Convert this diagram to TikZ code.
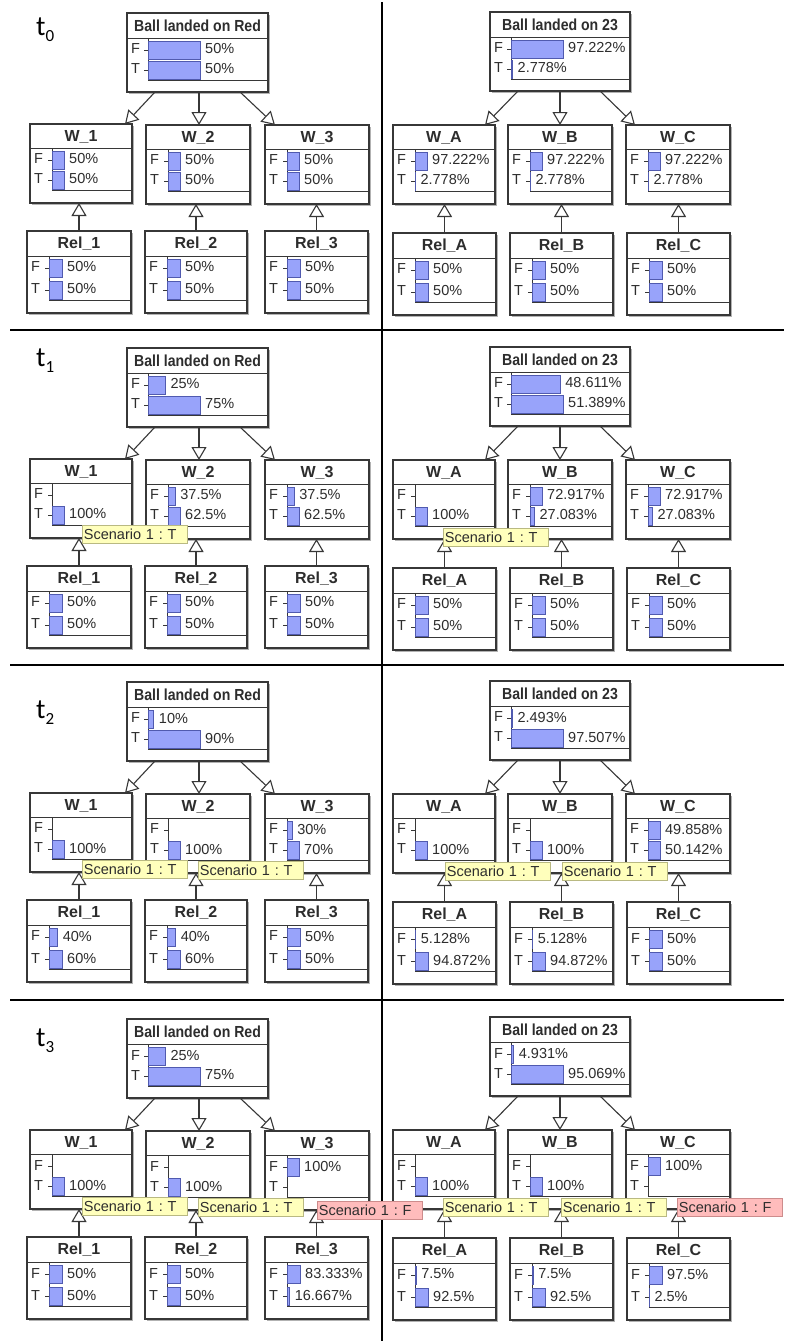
\documentclass[tikz,border=0pt]{standalone}
\usepackage{fontspec}
\usepackage{graphicx}
\setmainfont{Liberation Sans}
\newfontfamily\tfont{Carlito}
\usetikzlibrary{arrows.meta,shadows}
\definecolor{boxline}{RGB}{55,55,55}
\definecolor{txt}{RGB}{45,45,45}
\definecolor{barfill}{RGB}{152,163,250}
\definecolor{barline}{RGB}{80,90,175}
\definecolor{yelfill}{RGB}{255,255,188}
\definecolor{yelline}{RGB}{185,185,130}
\definecolor{pinkfill}{RGB}{255,188,188}
\definecolor{pinkline}{RGB}{205,140,140}

\tikzset{
  netbox/.style={draw=boxline, line width=1.3pt, fill=white, inner sep=0pt, outer sep=0pt,
    drop shadow={shadow xshift=1.8pt, shadow yshift=-1.8pt, opacity=0.3, fill=black}},
  innerline/.style={draw=boxline, line width=0.9pt},
  barbox/.style={fill=barfill, draw=barline, line width=0.6pt},
  titletext/.style={inner sep=0pt, text=txt, font=\fontsize{16}{18}\selectfont\bfseries},
  valtext/.style={inner sep=0pt, text=txt, font=\fontsize{14.5}{16}\selectfont},
  arr/.style={draw=boxline, line width=1.1pt, -{Triangle[length=13pt, width=15pt, fill=white]}},
  divider/.style={draw=black, line width=2pt},
  scen/.style={anchor=north west, minimum height=18pt, text width=102pt, inner xsep=1.5pt,
    inner ysep=0pt, align=left, line width=0.8pt, text=txt, font=\fontsize{14.5}{16}\selectfont},
  scenT/.style={scen, fill=yelfill, draw=yelline},
  scenF/.style={scen, fill=pinkfill, draw=pinkline},
  tlab/.style={inner sep=0pt, anchor=base west, text=black, font=\tfont\fontsize{28}{30}\selectfont}
}

\newcommand\kindball{\def\nnh{79}\def\nntb{25}\def\nnfy{37}\def\nnty{57}\def\nniy{67}\def\nnfull{52}\def\nnax{21}}
\newcommand\kindw{\def\nnh{79}\def\nntb{24}\def\nnfy{36}\def\nnty{56}\def\nniy{66}\def\nnfull{12}\def\nnax{22}}
\newcommand\kindrel{\def\nnh{82}\def\nntb{25}\def\nnfy{37}\def\nnty{59}\def\nniy{69}\def\nnfull{13}\def\nnax{22}}

% #1 name, #2 kind, #3 x, #4 y, #5 width, #6 title, #7 F value, #8 T value
\newcommand\netnode[8]{%
  \csname kind#2\endcsname
  \pgfmathsetmacro\nnx{#3}\pgfmathsetmacro\nny{#4}\pgfmathsetmacro\nnw{#5}%
  \node[netbox, minimum width=\nnw pt, minimum height=\nnh pt, anchor=north west] (#1) at (\nnx,\nny) {};
  \node[titletext] (#1-title) at (\nnx+\nnw/2, \nny+\nntb/2+0.5) {#6};
  \draw[innerline] (\nnx,\nny+\nntb) -- (\nnx+\nnw,\nny+\nntb);
  \pgfmathsetmacro\nnaxx{\nnx+\nnax}%
  \draw[innerline] (\nnaxx,\nny+\nntb) -- (\nnaxx,\nny+\nniy) -- (\nnx+\nnw,\nny+\nniy);
  \draw[innerline] (\nnaxx-4,\nny+\nnfy) -- (\nnaxx,\nny+\nnfy);
  \draw[innerline] (\nnaxx-4,\nny+\nnty) -- (\nnaxx,\nny+\nnty);
  \node[valtext, anchor=west] (#1-F) at (\nnx+4,\nny+\nnfy-1) {F};
  \node[valtext, anchor=west] (#1-T) at (\nnx+4,\nny+\nnty-1) {T};
  \pgfmathsetmacro\nnmx{max(#7,#8)}%
  \pgfmathsetmacro\nnbF{#7/\nnmx*\nnfull}%
  \pgfmathsetmacro\nnbT{#8/\nnmx*\nnfull}%
  \ifdim #7pt>0pt
    \draw[barbox] (\nnaxx,\nny+\nnfy-9) rectangle (\nnaxx+\nnbF,\nny+\nnfy+9);
    \node[valtext, anchor=west] (#1-fv) at (\nnaxx+\nnbF+5,\nny+\nnfy-1) {#7\%};
  \fi
  \ifdim #8pt>0pt
    \draw[barbox] (\nnaxx,\nny+\nnty-9) rectangle (\nnaxx+\nnbT,\nny+\nnty+9);
    \node[valtext, anchor=west] (#1-tv) at (\nnaxx+\nnbT+5,\nny+\nnty-1) {#8\%};
  \fi
}

% #1 prefix, #2-#7 x shifts of the three ball-to-W connectors
\newcommand\netarrows[7]{%
  \draw[arr] ([xshift=#2pt]#1ball.south west) -- ([xshift=#3pt]#1w1.north west);
  \draw[arr] ([xshift=#4pt]#1ball.south west) -- ([xshift=#5pt]#1w2.north west);
  \draw[arr] ([xshift=#6pt]#1ball.south west) -- ([xshift=#7pt]#1w3.north west);
  \draw[arr] (#1r1.north) -- (#1r1.north |- #1w1.south);
  \draw[arr] (#1r2.north) -- (#1r2.north |- #1w2.south);
  \draw[arr] (#1r3.north) -- (#1r3.north |- #1w3.south);
}

\begin{document}
\frenchspacing
\begin{tikzpicture}[x=1pt,y=-1pt]
\useasboundingbox (0,0) rectangle (791,1341);
\fill[white] (0,0) rectangle (791,1341);

% dividers
\coordinate (vtop) at (382,2);
\coordinate (vbot) at (382,1341);
\draw[divider] (vtop) -- (vbot);
\coordinate (h1l) at (10,330);  \coordinate (h1r) at (784,330);
\coordinate (h2l) at (10,665);  \coordinate (h2r) at (784,665);
\coordinate (h3l) at (10,1000); \coordinate (h3r) at (784,1000);
\draw[divider] (h1l) -- (h1r);
\draw[divider] (h2l) -- (h2r);
\draw[divider] (h3l) -- (h3r);

% ================= LEFT PANELS =================
\def\dy{0}
\netnode{LAball}{ball}{127}{\dy+13}{141}{\scalebox{0.88}[1]{Ball landed on Red}}{50}{50}
\netnode{LAw1}{w}{30}{\dy+124}{102}{W\_1}{50}{50}
\netnode{LAw2}{w}{146}{\dy+125}{104}{W\_2}{50}{50}
\netnode{LAw3}{w}{265}{\dy+125}{104}{W\_3}{50}{50}
\netnode{LAr1}{rel}{27}{\dy+231}{104}{Rel\_1}{50}{50}
\netnode{LAr2}{rel}{145}{\dy+231}{102}{Rel\_2}{50}{50}
\netnode{LAr3}{rel}{265}{\dy+231}{103}{Rel\_3}{50}{50}
\netarrows{LA}{28}{95}{72}{53}{113}{10}

\def\dy{335}
\netnode{LBball}{ball}{127}{\dy+13}{141}{\scalebox{0.88}[1]{Ball landed on Red}}{25}{75}
\netnode{LBw1}{w}{30}{\dy+124}{102}{W\_1}{0}{100}
\netnode{LBw2}{w}{146}{\dy+125}{104}{W\_2}{37.5}{62.5}
\netnode{LBw3}{w}{265}{\dy+125}{104}{W\_3}{37.5}{62.5}
\netnode{LBr1}{rel}{27}{\dy+231}{104}{Rel\_1}{50}{50}
\netnode{LBr2}{rel}{145}{\dy+231}{102}{Rel\_2}{50}{50}
\netnode{LBr3}{rel}{265}{\dy+231}{103}{Rel\_3}{50}{50}
\netarrows{LB}{28}{95}{72}{53}{113}{10}

\def\dy{669}
\netnode{LCball}{ball}{127}{\dy+13}{141}{\scalebox{0.88}[1]{Ball landed on Red}}{10}{90}
\netnode{LCw1}{w}{30}{\dy+124}{102}{W\_1}{0}{100}
\netnode{LCw2}{w}{146}{\dy+125}{104}{W\_2}{0}{100}
\netnode{LCw3}{w}{265}{\dy+125}{104}{W\_3}{30}{70}
\netnode{LCr1}{rel}{27}{\dy+231}{104}{Rel\_1}{40}{60}
\netnode{LCr2}{rel}{145}{\dy+231}{102}{Rel\_2}{40}{60}
\netnode{LCr3}{rel}{265}{\dy+231}{103}{Rel\_3}{50}{50}
\netarrows{LC}{28}{95}{72}{53}{113}{10}

\def\dy{1006}
\netnode{LDball}{ball}{127}{\dy+13}{141}{\scalebox{0.88}[1]{Ball landed on Red}}{25}{75}
\netnode{LDw1}{w}{30}{\dy+124}{102}{W\_1}{0}{100}
\netnode{LDw2}{w}{146}{\dy+125}{104}{W\_2}{0}{100}
\netnode{LDw3}{w}{265}{\dy+125}{104}{W\_3}{100}{0}
\netnode{LDr1}{rel}{27}{\dy+231}{104}{Rel\_1}{50}{50}
\netnode{LDr2}{rel}{145}{\dy+231}{102}{Rel\_2}{50}{50}
\netnode{LDr3}{rel}{265}{\dy+231}{103}{Rel\_3}{83.333}{16.667}
\netarrows{LD}{28}{95}{72}{53}{113}{10}

% ================= RIGHT PANELS =================
\def\dy{0}
\netnode{RAball}{ball}{490}{\dy+12}{140}{\scalebox{0.88}[1]{Ball landed on 23}}{97.222}{2.778}
\netnode{RAw1}{w}{393}{\dy+125}{102}{W\_A}{97.222}{2.778}
\netnode{RAw2}{w}{508}{\dy+125}{104}{W\_B}{97.222}{2.778}
\netnode{RAw3}{w}{626}{\dy+125}{104}{W\_C}{97.222}{2.778}
\netnode{RAr1}{rel}{393}{\dy+233}{103}{Rel\_A}{50}{50}
\netnode{RAr2}{rel}{510}{\dy+233}{103}{Rel\_B}{50}{50}
\netnode{RAr3}{rel}{627}{\dy+233}{103}{Rel\_C}{50}{50}
\netarrows{RA}{28}{92}{70}{52}{110}{9}

\def\dy{335}
\netnode{RBball}{ball}{490}{\dy+12}{140}{\scalebox{0.88}[1]{Ball landed on 23}}{48.611}{51.389}
\netnode{RBw1}{w}{393}{\dy+125}{102}{W\_A}{0}{100}
\netnode{RBw2}{w}{508}{\dy+125}{104}{W\_B}{72.917}{27.083}
\netnode{RBw3}{w}{626}{\dy+125}{104}{W\_C}{72.917}{27.083}
\netnode{RBr1}{rel}{393}{\dy+233}{103}{Rel\_A}{50}{50}
\netnode{RBr2}{rel}{510}{\dy+233}{103}{Rel\_B}{50}{50}
\netnode{RBr3}{rel}{627}{\dy+233}{103}{Rel\_C}{50}{50}
\netarrows{RB}{28}{92}{70}{52}{110}{9}

\def\dy{669}
\netnode{RCball}{ball}{490}{\dy+12}{140}{\scalebox{0.88}[1]{Ball landed on 23}}{2.493}{97.507}
\netnode{RCw1}{w}{393}{\dy+125}{102}{W\_A}{0}{100}
\netnode{RCw2}{w}{508}{\dy+125}{104}{W\_B}{0}{100}
\netnode{RCw3}{w}{626}{\dy+125}{104}{W\_C}{49.858}{50.142}
\netnode{RCr1}{rel}{393}{\dy+233}{103}{Rel\_A}{5.128}{94.872}
\netnode{RCr2}{rel}{510}{\dy+233}{103}{Rel\_B}{5.128}{94.872}
\netnode{RCr3}{rel}{627}{\dy+233}{103}{Rel\_C}{50}{50}
\netarrows{RC}{28}{92}{70}{52}{110}{9}

\def\dy{1005}
\netnode{RDball}{ball}{490}{\dy+12}{140}{\scalebox{0.88}[1]{Ball landed on 23}}{4.931}{95.069}
\netnode{RDw1}{w}{393}{\dy+125}{102}{W\_A}{0}{100}
\netnode{RDw2}{w}{508}{\dy+125}{104}{W\_B}{0}{100}
\netnode{RDw3}{w}{626}{\dy+125}{104}{W\_C}{100}{0}
\netnode{RDr1}{rel}{393}{\dy+233}{103}{Rel\_A}{7.5}{92.5}
\netnode{RDr2}{rel}{510}{\dy+233}{103}{Rel\_B}{7.5}{92.5}
\netnode{RDr3}{rel}{627}{\dy+233}{103}{Rel\_C}{97.5}{2.5}
\netarrows{RD}{28}{92}{70}{52}{110}{9}

% ================= SCENARIO LABELS =================
\node[scenT] (sB1) at (82,525) {Scenario 1 : T};
\node[scenT] (sRB1) at (443,528) {Scenario 1 : T};

\node[scenT] (sC1) at (82,860) {Scenario 1 : T};
\node[scenT] (sC2) at (198,861) {Scenario 1 : T};
\node[scenT] (sRC1) at (445,862) {Scenario 1 : T};
\node[scenT] (sRC2) at (562,862) {Scenario 1 : T};

\node[scenT] (sD1) at (82,1197) {Scenario 1 : T};
\node[scenT] (sD2) at (198,1198) {Scenario 1 : T};
\node[scenF] (sD3) at (317,1201) {Scenario 1 : F};
\node[scenT] (sRD1) at (443,1198) {Scenario 1 : T};
\node[scenT] (sRD2) at (561,1198) {Scenario 1 : T};
\node[scenF] (sRD3) at (677,1198) {Scenario 1 : F};

% ================= TIME LABELS =================
\node[tlab] (t0) at (36,35) {t\raisebox{-6pt}{\fontsize{17}{17}\selectfont 0}};
\node[tlab] (t1) at (36,366) {t\raisebox{-6pt}{\fontsize{17}{17}\selectfont 1}};
\node[tlab] (t2) at (36,718) {t\raisebox{-6pt}{\fontsize{17}{17}\selectfont 2}};
\node[tlab] (t3) at (36,1046) {t\raisebox{-6pt}{\fontsize{17}{17}\selectfont 3}};
\end{tikzpicture}
\end{document}
